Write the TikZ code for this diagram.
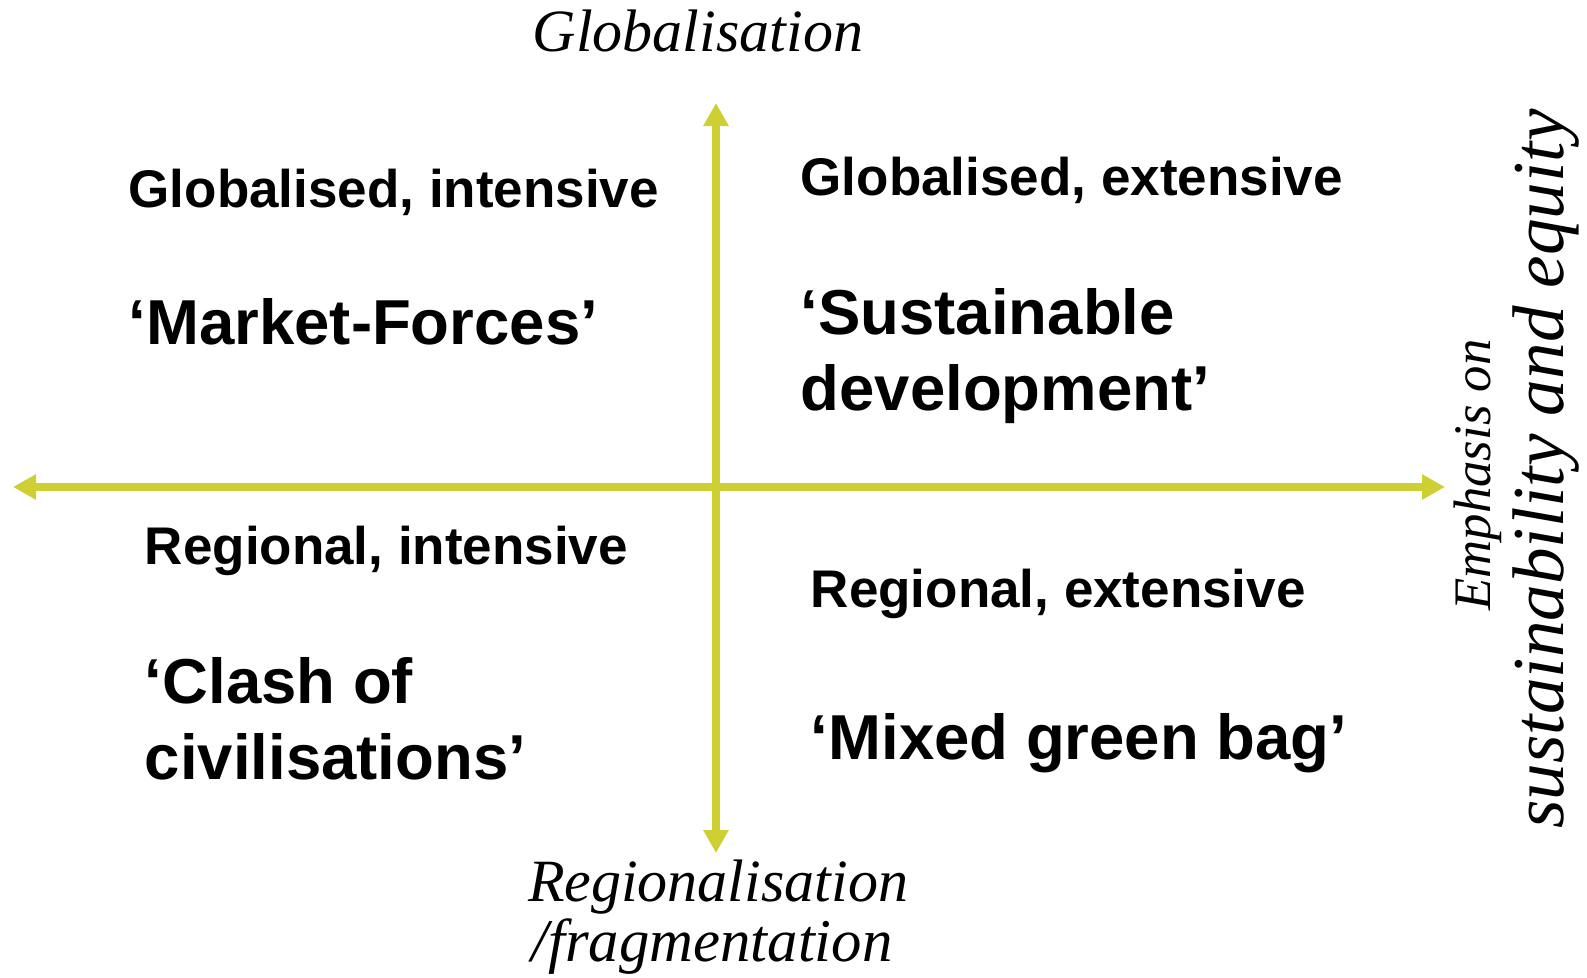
\documentclass[tikz,border=0pt]{standalone}
\usepackage{fontspec}
\setsansfont{Liberation Sans}
\newfontfamily\labserif{Liberation Serif}
\usepackage{graphicx}
\usetikzlibrary{arrows.meta}
\definecolor{axiscol}{RGB}{205,207,51}
\begin{document}
\begin{tikzpicture}[x=1pt,y=-1pt,
  lab/.style={font=\sffamily\bfseries\fontsize{53}{64}\selectfont, anchor=base west, inner sep=0},
  big/.style={font=\sffamily\bfseries\fontsize{63.5}{76}\selectfont, anchor=base west, inner sep=0},
  ital/.style={font=\labserif\itshape\fontsize{40}{48}\selectfont, anchor=base, inner sep=0},
  axisline/.style={draw=axiscol, line width=8pt, {Triangle[length=23pt,width=24pt]}-{Triangle[length=23pt,width=24pt]}}]
\useasboundingbox (0,0) rectangle (1587,977);
% axes
\coordinate (top) at (716,103);
\coordinate (bottom) at (716,853);
\coordinate (left) at (13,487);
\coordinate (right) at (1445,487);
\draw[axisline] (left) -- (right);
\draw[axisline] (top) -- (bottom);
% axis labels
\node[ital] (glob) at (698,51) {\resizebox{330pt}{!}{Globalisation}};
\node[ital] (reg1) at (718,901) {\resizebox{380pt}{!}{Regionalisation}};
\node[ital] (reg2) at (712,961) {\resizebox{361pt}{!}{/fragmentation}};
\node[ital, rotate=90] (emph) at (1490,475) {\resizebox{271pt}{!}{Emphasis on}};
\node[ital, rotate=90] (sust) at (1563,469) {\resizebox{719pt}{!}{sustainability and equity}};
% quadrants
\node[lab] (gi) at (128.5,207) {Globalised, intensive};
\node[big] (mf) at (128.5,344) {‘Market-Forces’};
\node[lab] (ge) at (800.5,195) {Globalised, extensive};
\node[big] (sd1) at (800.5,334) {‘Sustainable};
\node[big] (sd2) at (800.5,410) {development’};
\node[lab] (ri) at (144.7,564) {Regional, intensive};
\node[big] (cc1) at (144.7,703) {‘Clash of};
\node[big] (cc2) at (144.7,779) {civilisations’};
\node[lab] (re) at (810.6,607) {Regional, extensive};
\node[big] (mg) at (810.6,759) {‘Mixed green bag’};
\end{tikzpicture}
\end{document}
